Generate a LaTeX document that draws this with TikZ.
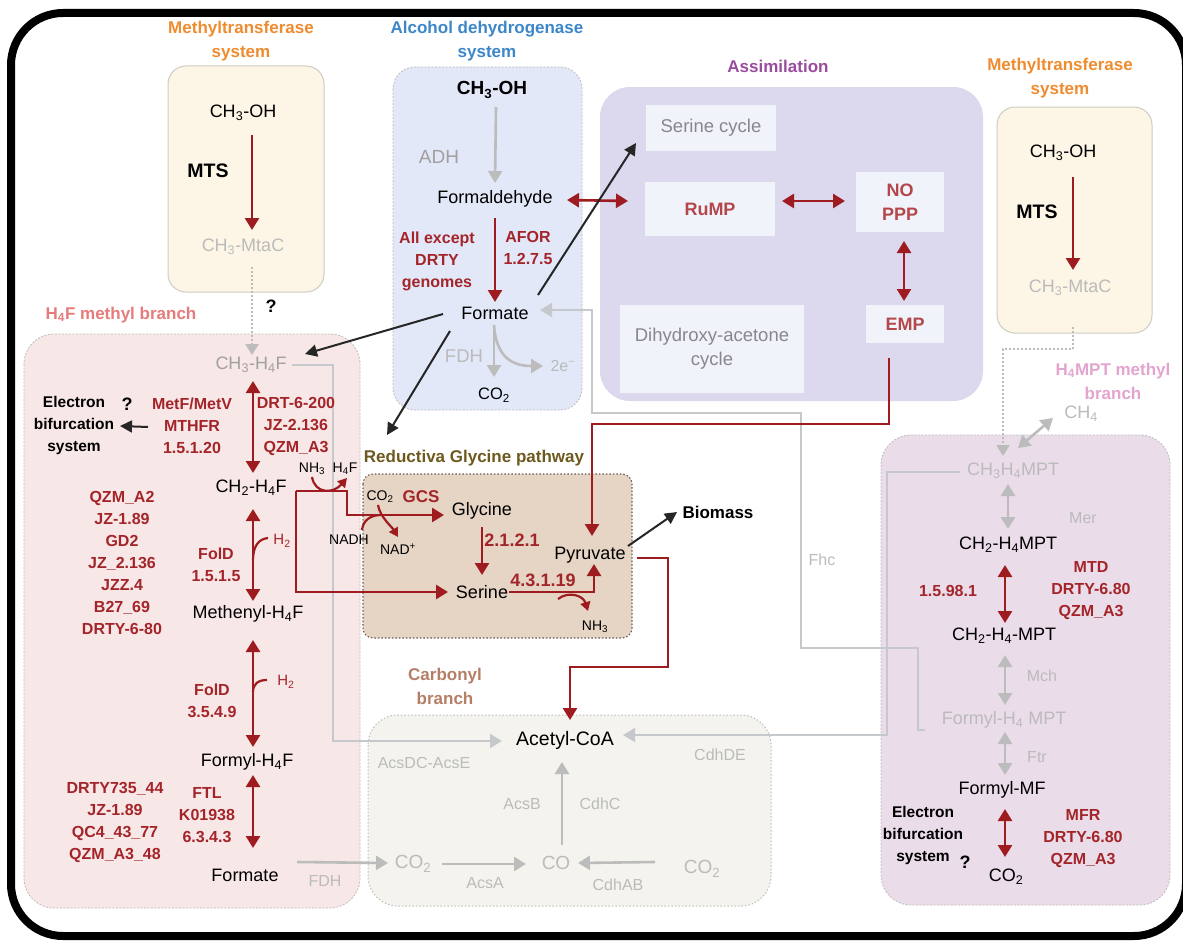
\documentclass[tikz,border=0pt]{standalone}
\usepackage{fontspec}
\setmainfont{Liberation Sans}
\usetikzlibrary{arrows.meta,calc}
\pgfdeclarelayer{bg}
\pgfdeclarelayer{mid}
\pgfsetlayers{bg,mid,main}
\definecolor{dred}{HTML}{9E1C20}
\definecolor{redtxt}{HTML}{A3252A}
\definecolor{abred}{HTML}{B4474B}
\definecolor{orangec}{HTML}{EE8C2F}
\definecolor{bluec}{HTML}{3C87CA}
\definecolor{purplec}{HTML}{9A4C9E}
\definecolor{pinkc}{HTML}{E3A5CF}
\definecolor{h4ftc}{HTML}{E57B7B}
\definecolor{carbc}{HTML}{B57F67}
\definecolor{rgptc}{HTML}{6E5A1F}
\definecolor{mtfill}{HTML}{FDF6E6}
\definecolor{mtborder}{HTML}{CFCBC2}
\definecolor{adhfill}{HTML}{E3E8F8}
\definecolor{assimfill}{HTML}{DCD8EE}
\definecolor{aboxfill}{HTML}{F1F3FA}
\definecolor{h4ffill}{HTML}{F8E7E7}
\definecolor{h4mptfill}{HTML}{EADCE9}
\definecolor{carbfill}{HTML}{F4F3ED}
\definecolor{rgpfill}{HTML}{E6D4C4}
\definecolor{rgpborder}{HTML}{6A5B52}
\definecolor{dashc}{HTML}{BDBDBD}
\definecolor{vlgrey}{HTML}{BBBBBB}
\definecolor{midgrey}{HTML}{A0A0A0}
\definecolor{sgrey}{HTML}{86888C}
\definecolor{garrc}{HTML}{BCBCBC}
\definecolor{glinec}{HTML}{C6C9CC}
\newcommand{\sbs}[1]{\textsubscript{#1}}
\newcommand{\sps}[1]{\textsuperscript{#1}}
\tikzset{
 every node/.style={inner sep=1pt},
 main/.style={font=\fontsize{18}{21}\selectfont},
 ttl/.style={font=\bfseries\fontsize{17}{24}\selectfont, align=center},
 rlab/.style={font=\bfseries\fontsize{16}{22}\selectfont, text=redtxt, align=center},
 rbig/.style={font=\bfseries\fontsize{18}{21}\selectfont, text=redtxt},
 blab/.style={font=\bfseries\fontsize{15.5}{22}\selectfont, align=center},
 qmark/.style={font=\bfseries\fontsize{18}{21}\selectfont},
 mtsl/.style={font=\bfseries\fontsize{19.5}{22}\selectfont},
 genz/.style={font=\fontsize{16}{19}\selectfont, text=vlgrey},
 gbig/.style={font=\fontsize{19}{22}\selectfont, text=vlgrey},
 smalllab/.style={font=\fontsize{14}{16}\selectfont},
 rsmall/.style={font=\fontsize{15}{18}\selectfont, text=redtxt},
 abox/.style={fill=aboxfill, align=center, font=\fontsize{18.5}{24}\selectfont, text=sgrey, inner sep=0pt},
 aboxred/.style={abox, font=\bfseries\fontsize{18}{24}\selectfont, text=abred},
 rarr/.style={draw=dred, line width=2.6pt, -{Triangle[width=14pt,length=12pt]}},
 rdbl/.style={draw=dred, line width=2.6pt, {Triangle[width=14pt,length=12pt]}-{Triangle[width=14pt,length=12pt]}},
 rline/.style={draw=dred, line width=2.2pt},
 rhook/.style={draw=dred, line width=2.2pt, -{Triangle[width=10pt,length=9pt]}},
 garr/.style={draw=garrc, line width=2.6pt, -{Triangle[width=14pt,length=12pt]}},
 gdbl/.style={draw=garrc, line width=2.6pt, {Triangle[width=14pt,length=12pt]}-{Triangle[width=14pt,length=12pt]}},
 gcon/.style={draw=glinec, line width=2.2pt, -{Triangle[width=14pt,length=12pt]}},
 karr/.style={draw=black!85, line width=2pt, -{Triangle[width=12pt,length=12pt]}},
 dotc/.style={draw=garrc, line width=2.2pt, dash pattern=on 2pt off 2pt},
 dashbox/.style={draw=dashc, line width=0.8pt, dash pattern=on 2pt off 1.5pt},
}
\begin{document}
\begin{tikzpicture}[x=1pt,y=-1pt]
\useasboundingbox (0,0) rectangle (1183,942);
\begin{pgfonlayer}{bg}
\fill[white] (0,0) rectangle (1183,942);
\draw[line width=8pt, rounded corners=52pt] (11,13) rectangle (1186,936);
\draw[draw=mtborder, fill=mtfill, line width=1pt, rounded corners=18pt] (168,66) rectangle (324,292);
\draw[draw=mtborder, fill=mtfill, line width=1pt, rounded corners=18pt] (997,107) rectangle (1152,333);
\draw[dashbox, fill=adhfill, rounded corners=22pt] (393,67) rectangle (582,410);
\fill[assimfill, rounded corners=30pt] (600,87) rectangle (983,401);
\draw[dashbox, fill=h4ffill, rounded corners=30pt] (24,334) rectangle (360,908);
\draw[dashbox, fill=h4mptfill, rounded corners=30pt] (881,435) rectangle (1170,905);
\draw[draw=dashc, line width=1pt, dash pattern=on 1.5pt off 2pt, fill=carbfill, rounded corners=30pt] (368,715) rectangle (771,906);
\draw[draw=rgpborder, line width=1.1pt, dash pattern=on 1.5pt off 2pt, fill=rgpfill, rounded corners=10pt] (363,474) rectangle (632,638);
\end{pgfonlayer}

% ---- left methyltransferase
\node[ttl, text=orangec] (tmtl) at (241,41) {Methyltransferase\\system};
\node[main] (lch3oh) at (243,113) {CH\sbs{3}-OH};
\node[mtsl] (lmts) at (208,171) {MTS};
\node[main, text=vlgrey] (lmtac) at (243,247) {CH\sbs{3}-MtaC};
\node[qmark] (q1) at (271,306) {?};

% ---- H4F branch
\node[ttl, text=h4ftc] (th4f) at (121,315) {H\sbs{4}F methyl branch};
\node[main, text=midgrey] (ch3h4f) at (251,365) {CH\sbs{3}-H\sbs{4}F};
\node[main] (ch2h4f) at (251,488) {CH\sbs{2}-H\sbs{4}F};
\node[main] (methenyl) at (248,614) {Methenyl-H\sbs{4}F};
\node[main] (formylh4f) at (247,762) {Formyl-H\sbs{4}F};
\node[main] (formateL) at (245,875) {Formate};
\node[rlab] (metf) at (192,426) {MetF/MetV\\MTHFR\\1.5.1.20};
\node[rlab] (drt6) at (296,426) {DRT-6-200\\JZ-2.136\\QZM\_A3};
\node[blab] (ebs1) at (74,425) {Electron\\bifurcation\\system};
\node[qmark] (q2) at (127,404) {?};
\node[rlab] (qzm) at (122,563) {QZM\_A2\\JZ-1.89\\GD2\\JZ\_2.136\\JZZ.4\\B27\_69\\DRTY-6-80};
\node[rlab] (fold1) at (216,565) {FolD\\1.5.1.5};
\node[rsmall] (h2a) at (282,541) {H\sbs{2}};
\node[rlab] (fold2) at (212,701) {FolD\\3.5.4.9};
\node[rsmall] (h2b) at (286,682) {H\sbs{2}};
\node[rlab] (ftl) at (207,815) {FTL\\K01938\\6.3.4.3};
\node[rlab] (drty735) at (115,822) {DRTY735\_44\\JZ-1.89\\QC4\_43\_77\\QZM\_A3\_48};
\node[genz] (fdhL) at (325,881) {FDH};

% ---- alcohol dehydrogenase
\node[ttl, text=bluec] (tadh) at (487,41) {Alcohol dehydrogenase\\system};
\node[font=\bfseries\fontsize{19}{22}\selectfont] (ach3oh) at (492,90) {CH\sbs{3}-OH};
\node[font=\fontsize{19}{22}\selectfont, text=midgrey] (adh) at (439,157) {ADH};
\node[main] (formald) at (495,199) {Formaldehyde};
\node[rlab] (allexc) at (437,261) {All except\\DRTY\\genomes};
\node[rlab] (afor) at (528,248) {AFOR\\1.2.7.5};
\node[main] (formate) at (495,313) {Formate};
\node[font=\fontsize{18.5}{22}\selectfont, text=vlgrey] (fdh) at (464,356) {FDH};
\node[font=\fontsize{16.5}{20}\selectfont] (co2a) at (494,395) {CO\sbs{2}};
\node[genz] (twoe) at (563,366) {2e\sps{−}};

% ---- assimilation
\node[ttl, text=purplec] (tassim) at (778,66) {Assimilation};
\node[abox, minimum width=130pt, minimum height=46pt] (sercyc) at (711,128) {Serine cycle};
\node[aboxred, minimum width=130pt, minimum height=54pt] (rump) at (710,209) {RuMP};
\node[aboxred, minimum width=88pt, minimum height=60pt] (noppp) at (900,202) {NO\\PPP};
\node[aboxred, minimum width=78pt, minimum height=38pt] (emp) at (905,324) {EMP};
\node[abox, minimum width=184pt, minimum height=88pt] (dhac) at (712,349) {Dihydroxy-acetone\\cycle};

% ---- right methyltransferase
\node[ttl, text=orangec] (tmtr) at (1060,78) {Methyltransferase\\system};
\node[main] (rch3oh) at (1063,153) {CH\sbs{3}-OH};
\node[mtsl] (rmts) at (1037,212) {MTS};
\node[main, text=vlgrey] (rmtac) at (1070,288) {CH\sbs{3}-MtaC};

% ---- H4MPT branch
\node[ttl, text=pinkc] (th4mpt) at (1113,381) {H\sbs{4}MPT methyl\\branch};
\node[main, text=vlgrey] (ch4) at (1081,414) {CH\sbs{4}};
\node[main, text=vlgrey] (ch3h4mpt) at (1013,471) {CH\sbs{3}H\sbs{4}MPT};
\node[genz] (mer) at (1083,518) {Mer};
\node[main] (ch2h4mpt) at (1008,545) {CH\sbs{2}-H\sbs{4}MPT};
\node[rlab] (ec1598) at (948,591) {1.5.98.1};
\node[rlab] (mtd) at (1091,591) {MTD\\DRTY-6.80\\QZM\_A3};
\node[main] (ch2h4mpt2) at (1004,636) {CH\sbs{2}-H\sbs{4}-MPT};
\node[genz] (mch) at (1042,676) {Mch};
\node[main, text=vlgrey] (formylh4mpt) at (1004,720) {Formyl-H\sbs{4} MPT};
\node[genz] (ftr) at (1037,757) {Ftr};
\node[main] (formylmf) at (1002,790) {Formyl-MF};
\node[blab] (ebs2) at (923,835) {Electron\\bifurcation\\system};
\node[qmark] (q3) at (965,862) {?};
\node[rlab] (mfr) at (1083,839) {MFR\\DRTY-6.80\\QZM\_A3};
\node[main] (co2r) at (1006,877) {CO\sbs{2}};
\node[genz] (fhc) at (822,560) {Fhc};

% ---- reductive glycine pathway
\node[ttl, text=rgptc] (trgp) at (474,458) {Reductiva Glycine pathway};
\node[main] (gly) at (482,511) {Glycine};
\node[main] (ser) at (482,592) {Serine};
\node[main] (pyr) at (590,555) {Pyruvate};
\node[font=\bfseries\fontsize{17}{20}\selectfont, text=redtxt] (gcs) at (421,497) {GCS};
\node[smalllab] (co2g) at (380,497) {CO\sbs{2}};
\node[smalllab] (nadh) at (349,540) {NADH};
\node[smalllab] (nadp) at (398,549) {NAD\sps{+}};
\node[smalllab] (nh3a) at (312,469) {NH\sbs{3}};
\node[smalllab] (h4fa) at (345,469) {H\sbs{4}F};
\node[rbig] (ec2121) at (512,540) {2.1.2.1};
\node[rbig] (ec43119) at (543,580) {4.3.1.19};
\node[smalllab] (nh3b) at (595,627) {NH\sbs{3}};
\node[font=\bfseries\fontsize{17}{20}\selectfont] (biomass) at (718,512) {Biomass};

% ---- carbonyl branch
\node[ttl, text=carbc] (tcarb) at (445,686) {Carbonyl\\branch};
\node[font=\fontsize{19.5}{22}\selectfont] (acetyl) at (565,740) {Acetyl-CoA};
\node[genz] (acsdc) at (424,763) {AcsDC-AcsE};
\node[genz] (cdhde) at (720,755) {CdhDE};
\node[genz] (acsb) at (522,804) {AcsB};
\node[genz] (cdhc) at (600,804) {CdhC};
\node[gbig] (co2c) at (413,864) {CO\sbs{2}};
\node[gbig] (co) at (556,863) {CO};
\node[gbig] (co2d) at (702,869) {CO\sbs{2}};
\node[genz] (acsa) at (485,883) {AcsA};
\node[genz] (cdhab) at (618,885) {CdhAB};

% ================= connectors
\begin{pgfonlayer}{mid}
\draw[gcon] ($(ch3h4f)+(41,0)$) -- ($(ch3h4f)+(82,0)$) |- ($(acetyl)+(-63,1)$);
\draw[gcon] ($(ch3h4mpt)+(-53,1)$) -- ($(ch3h4mpt)+(-126,1)$) |- ($(acetyl)+(58,-5)$);
\draw[gcon] ($(formylh4mpt)+(-79,10)$) -- ($(formylh4mpt)+(-86,10)$) |- ($(fhc)+(-21,88)$) |- ($(formate)+(97,100)$) |- ($(formate)+(45,-3)$);
\draw[garr] ($(formateL)+(52,-13)$) -- ($(co2c)+(-25,-1)$);
\end{pgfonlayer}

% left MTS
\draw[rarr] ($(lch3oh)+(9,22)$) -- ($(lmtac)+(9,-17)$);
\draw[dotc, -{Triangle[width=13pt,length=11pt]}] ($(lmtac)+(9,20)$) -- ($(ch3h4f)+(1,-10)$);
% right MTS
\draw[rarr] ($(rch3oh)+(10,24)$) -- ($(rmtac)+(3,-18)$);
\draw[dotc, -{Triangle[width=13pt,length=11pt]}] ($(rmtac)+(3,39)$) |- ($(ch3h4mpt)+(-10,-122)$) -- ($(ch3h4mpt)+(-10,-15)$);

% H4F branch
\draw[rdbl] ($(ch3h4f)+(2,16)$) -- ($(ch2h4f)+(2,-15)$);
\draw[rdbl] ($(ch2h4f)+(2,21)$) -- ($(methenyl)+(5,-13)$);
\draw[rdbl] ($(methenyl)+(5,26)$) -- ($(formylh4f)+(6,-15)$);
\draw[rdbl] ($(formylh4f)+(6,13)$) -- ($(formateL)+(8,-27)$);
\draw[rline] ($(h2a)+(-29,19)$) .. controls ($(h2a)+(-29,6)$) and ($(h2a)+(-24,-2)$) .. ($(h2a)+(-14,-3)$);
\draw[rline] ($(h2b)+(-33,10)$) .. controls ($(h2b)+(-33,2)$) and ($(h2b)+(-28,-2)$) .. ($(h2b)+(-19,-2)$);
\draw[karr] ($(metf)+(-44,1)$) -- ($(ebs1)+(46,1)$);

% ADH
\draw[garr] ($(ach3oh)+(4,17)$) -- ($(formald)+(0,-16)$);
\draw[rarr] ($(formald)+(0,19)$) -- ($(formate)+(0,-11)$);
\draw[rdbl] ($(formald)+(72,1)$) -- ($(rump)+(-82,-8)$);
\draw[garr] ($(formate)+(-1,12)$) -- ($(co2a)+(0,-18)$);
\draw[garr] ($(formate)+(-1,12)$) .. controls ($(formate)+(1,42)$) and ($(formate)+(15,53)$) .. ($(twoe)+(-20,0)$);
\draw[karr] ($(formate)+(43,-18)$) -- ($(sercyc)+(-75,15)$);
\draw[karr] ($(formate)+(-52,1)$) -- ($(ch3h4f)+(54,-11)$);
\draw[karr] ($(formate)+(-45,18)$) -- ($(trgp)+(-87,-23)$);

% assimilation
\draw[rdbl] ($(rump)+(72,-8)$) -- ($(noppp)+(-55,-1)$);
\draw[rdbl] ($(noppp)+(4,39)$) -- ($(emp)+(-1,-23)$);
\draw[rarr] ($(emp)+(-16,34)$) |- ($(pyr)+(2,-131)$) -- ($(pyr)+(2,-19)$);

% reductive glycine
\coordinate (c2) at ($(ch2h4f)+(45,3)$);
\draw[rarr] (c2) -- ($(c2)+(51,0)$) |- ($(gly)+(-38,4)$);
\draw[rarr] (c2) |- ($(ser)+(-34,0)$);
\draw[rhook] ($(nh3a)+(0,8)$) .. controls ($(nh3a)+(3,25)$) and ($(h4fa)+(-12,25)$) .. ($(h4fa)+(2,9)$);
\draw[rhook] ($(co2g)+(-2,8)$) .. controls ($(co2g)+(0,20)$) and ($(nadp)+(-6,-22)$) .. ($(nadp)+(0,-12)$);
\draw[rline] ($(nadh)+(13,-10)$) .. controls ($(nadh)+(14,-20)$) and ($(nadh)+(22,-25)$) .. ($(nadh)+(32,-25)$);
\draw[rarr] ($(gly)+(0,16)$) -- ($(ser)+(0,-17)$);
\draw[rarr] ($(ser)+(27,0)$) -| ($(pyr)+(4,9)$);
\draw[rhook] ($(nh3b)+(-37,-28)$) .. controls ($(nh3b)+(-27,-36)$) and ($(nh3b)+(-12,-32)$) .. ($(nh3b)+(-7,-16)$);
\draw[karr] ($(pyr)+(38,-9)$) -- ($(biomass)+(-41,0)$);
\draw[rarr] ($(pyr)+(47,3)$) -| ($(acetyl)+(103,-73)$) -| ($(acetyl)+(5,-20)$);

% carbonyl
\draw[garr] ($(co2c)+(29,0)$) -- ($(co)+(-30,1)$);
\draw[garr] ($(co2d)+(-47,-7)$) -- ($(co)+(22,0)$);
\draw[garr] ($(co)+(6,-18)$) -- ($(acetyl)+(-3,22)$);

% H4MPT branch
\draw[gdbl] ($(ch3h4mpt)+(-5,13)$) -- ($(ch2h4mpt)+(0,-16)$);
\draw[gdbl] ($(ch3h4mpt)+(5,-23)$) -- ($(ch4)+(-28,4)$);
\draw[rdbl] ($(ch2h4mpt)+(-3,20)$) -- ($(ch2h4mpt2)+(1,-13)$);
\draw[gdbl] ($(ch2h4mpt2)+(1,19)$) -- ($(formylh4mpt)+(1,-15)$);
\draw[gdbl] ($(formylh4mpt)+(1,12)$) -- ($(formylmf)+(3,-15)$);
\draw[rdbl] ($(formylmf)+(3,19)$) -- ($(co2r)+(-1,-20)$);
\end{tikzpicture}
\end{document}
